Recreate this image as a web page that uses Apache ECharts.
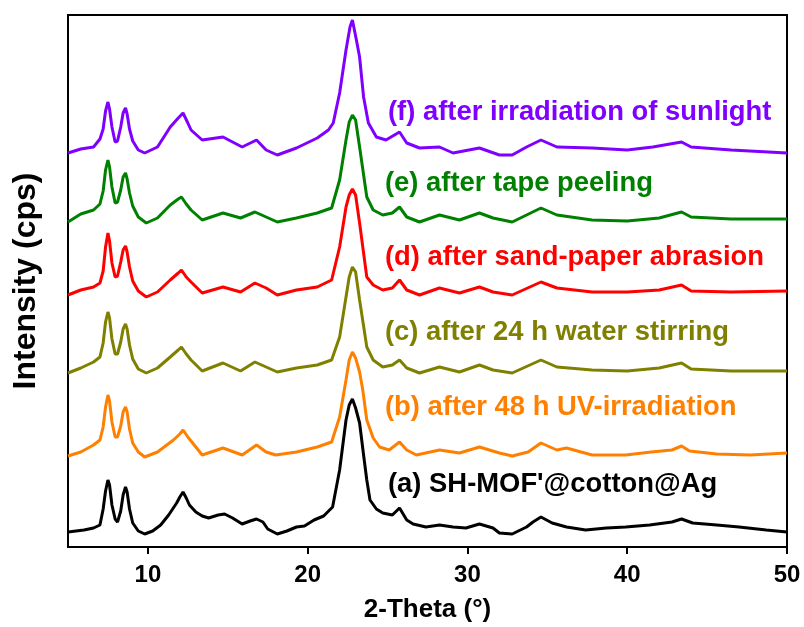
<!DOCTYPE html>
<html>
<head>
<meta charset="utf-8">
<script src="https://cdn.jsdelivr.net/npm/echarts@6/dist/echarts.min.js"></script>
<style>
html,body{margin:0;padding:0;background:#fff;}
#c{width:804px;height:627px;}
</style>
</head>
<body>
<div id="c"></div>
<script>
// Series names (legend texts drawn beside curves)
const seriesNames = [
  "(a) SH-MOF'@cotton@Ag",
  "(b) after 48 h UV-irradiation",
  "(c) after 24 h water stirring",
  "(d) after sand-paper abrasion",
  "(e) after tape peeling",
  "(f) after irradiation of sunlight"
];
const xTickLabels = [10, 20, 30, 40, 50];

// [2-Theta, Intensity (offset, a.u.)]
const seriesA = [[5.0,15],[5.5,16],[6.0,17],[6.6,19],[7.0,22],[7.2,38],[7.35,56],[7.5,67],[7.6,62],[7.75,42],[7.95,28],[8.1,25],[8.3,36],[8.45,52],[8.6,60],[8.7,55],[8.85,38],[9.05,24],[9.4,16],[9.8,13],[10.3,16],[10.8,22],[11.3,32],[11.8,44],[12.0,50],[12.2,55],[12.4,49],[12.6,42],[13.0,35],[13.4,31],[13.8,29],[14.4,32],[14.8,33],[15.3,29],[15.9,23],[16.4,26],[16.8,28],[17.2,25],[17.5,18],[18.1,13],[18.7,16],[19.3,20],[19.8,21],[20.4,27],[21.0,31],[21.56,40],[22.0,77],[22.4,127],[22.6,142],[22.8,148],[23.0,139],[23.25,124],[23.5,92],[23.7,67],[23.9,47],[24.3,38],[24.7,34],[25.3,32],[25.75,39],[26.2,27],[26.6,23],[27.4,20],[28.25,22],[29.1,20],[29.9,19],[30.75,23],[31.6,19],[32.0,14],[32.8,13],[33.7,20],[34.1,25],[34.6,30],[35.3,24],[36.2,20],[37.4,17],[38.7,19],[39.9,20],[41.4,22],[42.8,25],[43.4,28],[44.1,24],[45.6,22],[47.0,20],[48.7,17],[50.0,15]];

const seriesB = [[5.0,91],[5.8,95],[6.6,102],[7.0,107],[7.2,120],[7.35,140],[7.5,152],[7.6,146],[7.75,125],[7.95,110],[8.1,110],[8.3,121],[8.45,135],[8.6,140],[8.7,135],[8.85,118],[9.05,104],[9.4,95],[9.8,90],[10.6,95],[11.6,107],[12.0,113],[12.2,117],[12.5,110],[12.8,104],[13.4,92],[14.7,99],[15.9,92],[16.8,102],[17.4,95],[18.0,92],[19.3,95],[20.6,100],[21.5,105],[22.0,130],[22.4,167],[22.6,187],[22.8,195],[23.0,189],[23.25,175],[23.45,157],[23.7,127],[24.1,109],[24.5,100],[25.1,97],[25.75,105],[26.2,97],[26.8,92],[28.25,97],[29.5,94],[30.75,100],[32.0,94],[32.8,91],[33.8,95],[34.6,104],[35.6,97],[36.2,99],[37.8,92],[39.9,92],[41.5,95],[42.8,97],[43.4,101],[43.9,96],[45.6,93],[47.7,92],[50.0,94]];

const seriesC = [[5.0,174],[5.8,179],[6.6,185],[7.0,190],[7.2,204],[7.35,225],[7.5,235],[7.6,229],[7.75,208],[7.95,193],[8.1,193],[8.3,205],[8.45,218],[8.6,223],[8.7,218],[8.85,202],[9.05,188],[9.4,178],[9.9,174],[10.6,179],[11.4,190],[11.9,197],[12.1,200],[12.4,193],[12.7,187],[13.4,176],[14.7,184],[15.8,176],[16.7,185],[17.4,180],[18.1,175],[19.3,179],[20.6,182],[21.5,187],[22.0,210],[22.4,250],[22.6,270],[22.8,280],[23.0,275],[23.25,247],[23.7,200],[24.1,187],[24.7,180],[25.3,182],[25.75,187],[26.2,179],[27.0,174],[28.25,180],[29.5,175],[30.75,182],[31.6,177],[32.8,174],[34.6,187],[35.6,180],[37.8,177],[40.0,176],[42.0,179],[43.4,184],[44.0,178],[46.5,176],[50.0,176]];

const seriesD = [[5.0,252],[5.8,257],[6.6,260],[7.0,264],[7.2,276],[7.35,300],[7.5,314],[7.6,306],[7.75,284],[7.95,270],[8.1,271],[8.3,285],[8.45,297],[8.6,301],[8.7,295],[8.85,280],[9.05,266],[9.4,256],[9.9,250],[10.6,255],[11.4,267],[11.9,274],[12.1,277],[12.4,270],[12.7,265],[13.4,254],[14.7,260],[15.8,255],[16.7,264],[17.4,259],[18.1,252],[19.3,257],[20.6,260],[21.5,267],[22.0,300],[22.4,340],[22.6,352],[22.8,358],[23.0,352],[23.25,324],[23.7,270],[24.1,262],[24.7,257],[25.3,259],[25.75,267],[26.2,257],[27.0,252],[28.25,259],[29.5,254],[30.75,260],[31.6,255],[32.8,252],[34.6,265],[35.6,259],[37.8,255],[40.0,255],[42.0,257],[43.4,262],[44.0,256],[46.5,255],[50.0,256]];

const seriesE = [[5.0,325],[5.8,333],[6.6,337],[7.0,343],[7.2,356],[7.35,377],[7.5,387],[7.6,380],[7.75,360],[7.95,344],[8.1,345],[8.3,357],[8.45,370],[8.6,374],[8.7,368],[8.85,354],[9.05,341],[9.4,330],[9.9,324],[10.6,329],[11.4,342],[11.9,348],[12.1,350],[12.4,343],[12.7,337],[13.4,327],[14.7,334],[15.8,329],[16.7,335],[17.4,330],[18.1,325],[19.3,329],[20.6,334],[21.5,339],[22.0,367],[22.4,407],[22.6,425],[22.8,432],[23.0,427],[23.25,400],[23.7,350],[24.1,337],[24.7,332],[25.3,334],[25.75,340],[26.2,330],[27.0,325],[28.25,332],[29.5,327],[30.75,334],[31.6,329],[32.8,325],[34.6,339],[35.6,332],[37.8,327],[40.0,326],[42.0,329],[43.4,335],[44.0,330],[46.5,328],[50.0,328]];

const seriesF = [[5.0,394],[5.8,398],[6.6,400],[7.0,408],[7.2,418],[7.35,436],[7.5,445],[7.6,438],[7.75,420],[7.95,405],[8.1,406],[8.3,420],[8.45,434],[8.6,439],[8.7,433],[8.85,418],[9.05,406],[9.4,397],[9.8,394],[10.6,400],[11.4,420],[11.9,429],[12.2,434],[12.5,424],[12.7,417],[13.4,407],[14.7,410],[15.9,400],[16.8,407],[17.4,397],[18.1,392],[19.3,399],[20.6,409],[21.3,417],[21.6,424],[22.0,454],[22.4,497],[22.65,520],[22.8,527],[23.05,507],[23.25,490],[23.5,450],[23.8,424],[24.3,410],[24.9,407],[25.75,415],[26.2,404],[27.0,399],[28.25,400],[29.1,394],[30.75,399],[32.0,392],[32.8,392],[33.7,400],[34.6,407],[35.6,400],[37.8,399],[40.0,397],[41.6,400],[43.4,405],[44.0,400],[46.5,397],[50.0,394]];

const allSeries = [seriesA, seriesB, seriesC, seriesD, seriesE, seriesF];
const colors = ['#000000', '#FF8000', '#808000', '#FF0000', '#008000', '#8000FF'];
const labelPos = [[388, 471], [385, 394], [385, 319], [385, 244], [385, 170], [388, 99]];

const chart = echarts.init(document.getElementById('c'), null, {renderer: 'canvas'});
const font = '"Liberation Sans", Arial, sans-serif';

chart.setOption({
  animation: false,
  backgroundColor: '#ffffff',
  grid: {left: 68, right: 17, top: 15, bottom: 80, containLabel: false, outerBoundsMode: 'none', show: true, borderColor: '#000', borderWidth: 2, backgroundColor: 'transparent'},
  xAxis: {
    type: 'value', min: 5, max: 50,
    name: '2-Theta (°)', nameLocation: 'middle', nameGap: 50,
    nameTextStyle: {fontFamily: font, fontWeight: 'bold', fontSize: 26, color: '#000'},
    axisLine: {show: true, lineStyle: {color: '#000', width: 2}},
    axisTick: {show: true, customValues: xTickLabels, length: 7, lineStyle: {color: '#000', width: 2}},
    axisLabel: {customValues: xTickLabels, fontFamily: font, fontWeight: 'bold', fontSize: 24, color: '#000', margin: 16},
    splitLine: {show: false}
  },
  yAxis: {
    type: 'value', min: 0, max: 532,
    name: 'Intensity (cps)', nameLocation: 'middle', nameGap: 26, nameRotate: 90,
    nameTextStyle: {fontFamily: font, fontWeight: 'bold', fontSize: 32, color: '#000'},
    axisLine: {show: true, lineStyle: {color: '#000', width: 2}},
    axisTick: {show: false}, axisLabel: {show: false}, splitLine: {show: false}
  },
  series: allSeries.map((d, i) => ({
    type: 'line', name: seriesNames[i], data: d, showSymbol: false, symbol: 'none',
    lineStyle: {color: colors[i], width: 3}, z: 2 + (5 - i)
  })),
  graphic: seriesNames.map((t, i) => ({
    type: 'text', left: labelPos[i][0], top: labelPos[i][1], z: 100,
    style: {text: t, fill: colors[i], font: 'bold 27.4px ' + font}
  }))
});
</script>
</body>
</html>
